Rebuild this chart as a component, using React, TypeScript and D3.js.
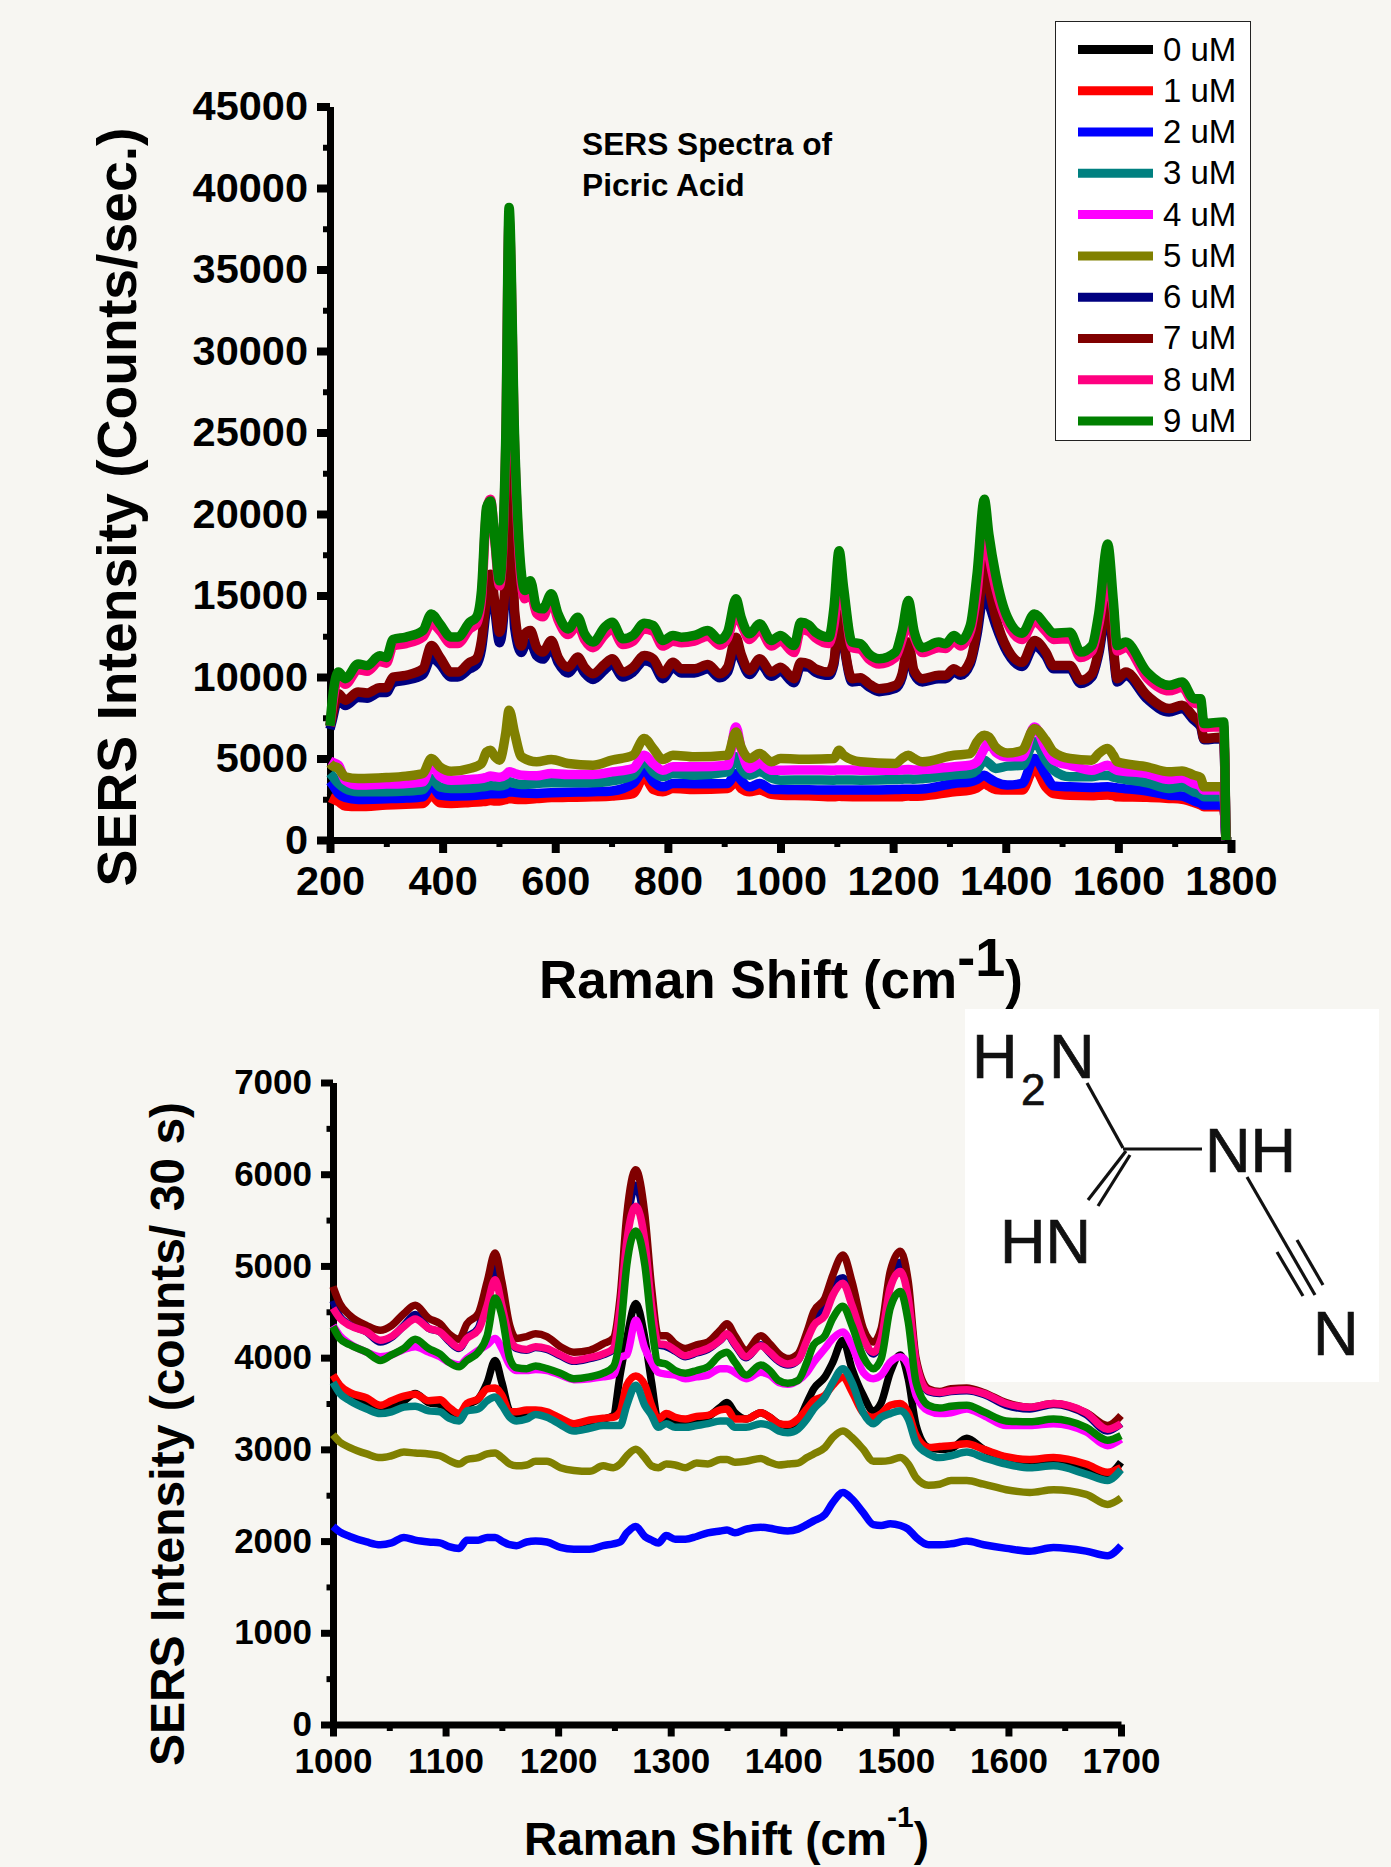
import React, { useRef, useEffect } from 'react';
import * as d3 from 'd3';

const WIDTH = 1391;
const HEIGHT = 1867;
const FONT = '"Liberation Sans", Arial, sans-serif';

const labels = ['0 uM', '1 uM', '2 uM', '3 uM', '4 uM', '5 uM', '6 uM', '7 uM', '8 uM', '9 uM'];
const colors = ['#000000', '#ff0000', '#0000ff', '#008080', '#ff00ff', '#808000', '#000080', '#800000', '#ff0080', '#008000'];

// top chart: picric acid. Low concentrations were read on a coarser grid than the high ones
const lowX = [
  200, 203, 215, 227, 250, 300, 335, 365, 380, 395,
  415, 448, 469, 478, 485, 493, 501, 512, 518, 528,
  540, 567, 593, 623, 667, 701, 738, 758, 774, 791,
  809, 847, 906, 921, 930, 945, 963, 984, 1000, 1050,
  1095, 1104, 1112, 1142, 1204, 1216, 1227, 1237, 1252, 1308,
  1337, 1349, 1362, 1370, 1382, 1403, 1429, 1451, 1471, 1485,
  1514, 1553, 1565, 1581, 1591, 1598, 1651, 1690, 1713, 1734,
  1746, 1752, 1787, 1791,
];
const highX = [
  200, 203, 215, 227, 250, 266, 288, 300, 312, 335,
  365, 380, 395, 415, 427, 448, 460, 469, 478, 485,
  493, 501, 512, 518, 528, 540, 546, 556, 567, 578,
  593, 605, 623, 640, 652, 667, 688, 701, 720, 738,
  758, 774, 791, 809, 824, 847, 871, 892, 906, 921,
  930, 945, 963, 984, 1000, 1024, 1036, 1050, 1062, 1086,
  1095, 1104, 1112, 1127, 1142, 1157, 1175, 1204, 1216, 1227,
  1237, 1252, 1281, 1293, 1308, 1320, 1337, 1349, 1362, 1370,
  1382, 1403, 1429, 1451, 1471, 1485, 1514, 1533, 1553, 1565,
  1581, 1591, 1598, 1613, 1651, 1690, 1713, 1734, 1746, 1752,
  1787, 1791,
];

const top0 = [
  3000, 2900, 2500, 2300, 2250, 2330, 2400, 2450, 3050, 2500,
  2450, 2500, 2550, 2590, 2620, 2610, 2610, 2680, 2750, 2700,
  2680, 2700, 2750, 2770, 2800, 2850, 3150, 4050, 3300, 3100,
  3300, 3270, 3300, 3800, 3400, 3100, 3250, 2950, 2900, 2880,
  2850, 2870, 2860, 2850, 2870, 2880, 2900, 2880, 2900, 3200,
  3300, 3450, 3700, 3550, 3300, 3200, 3250, 4700, 3600, 3050,
  2980, 2950, 2970, 3000, 2950, 2900, 2800, 2650, 2600, 2350,
  2200, 2090, 2090, 0,
];
const top1 = [
  2600, 2550, 2350, 2080, 2050, 2140, 2200, 2240, 2750, 2280,
  2240, 2300, 2350, 2380, 2420, 2400, 2400, 2480, 2550, 2500,
  2480, 2540, 2600, 2620, 2650, 2700, 2850, 3880, 3100, 2960,
  3160, 3100, 3160, 3570, 3160, 2960, 3060, 2800, 2750, 2720,
  2650, 2680, 2670, 2650, 2650, 2660, 2700, 2680, 2700, 2960,
  3060, 3200, 3470, 3300, 3100, 3060, 3060, 4390, 3260, 2850,
  2750, 2720, 2740, 2760, 2720, 2650, 2620, 2550, 2500, 2300,
  2150, 2040, 2040, 0,
];
const top2 = [
  3600, 3470, 2860, 2610, 2490, 2530, 2570, 2650, 3370, 2750,
  2690, 2720, 2770, 2800, 2830, 2830, 2840, 2880, 2960, 2930,
  2880, 2860, 2900, 2930, 2960, 3010, 3470, 4280, 3570, 3260,
  3470, 3450, 3470, 4080, 3670, 3260, 3470, 3120, 3100, 3080,
  3060, 3070, 3070, 3060, 3100, 3110, 3120, 3110, 3130, 3470,
  3570, 3720, 3980, 3800, 3560, 3370, 3470, 5000, 3980, 3320,
  3260, 3220, 3240, 3260, 3230, 3200, 3000, 2750, 2700, 2400,
  2250, 2140, 2140, 0,
];
const top3 = [
  4100, 3980, 3470, 3160, 2960, 2960, 3000, 3100, 3770, 3260,
  3160, 3180, 3260, 3300, 3350, 3330, 3320, 3400, 3570, 3470,
  3400, 3470, 3510, 3510, 3510, 3630, 3980, 4800, 4180, 3880,
  4080, 3980, 4180, 5100, 4390, 3980, 4180, 3800, 3670, 3680,
  3670, 3680, 3680, 3670, 3710, 3730, 3750, 3730, 3760, 4000,
  4080, 4300, 4900, 4700, 4390, 4530, 4590, 6020, 4900, 4280,
  3880, 3880, 3950, 3980, 3850, 3800, 3510, 3160, 3260, 2960,
  2800, 2650, 2650, 0,
];
const top4 = [
  4850, 4790, 4590, 3670, 3370, 3430, 3470, 3570, 4600, 3920,
  3670, 3710, 3770, 3850, 3920, 3880, 3850, 4000, 4180, 4080,
  3980, 3940, 4080, 4020, 4020, 4180, 4390, 5200, 4690, 4280,
  4490, 4490, 4590, 6940, 5610, 4390, 4690, 4280, 4280, 4300,
  4280, 4300, 4300, 4280, 4280, 4300, 4320, 4300, 4320, 4500,
  4590, 4800, 5610, 6000, 5400, 5100, 5100, 6940, 5610, 4900,
  4590, 4280, 4400, 4590, 4400, 4280, 4080, 3710, 3800, 3470,
  3300, 3060, 3060, 0,
];
const top5 = [
  4700, 4590, 4390, 3880, 3770, 3830, 3920, 4080, 5000, 4490,
  4220, 4390, 4690, 5400, 5500, 5100, 4900, 6530, 7960, 6530,
  5100, 4800, 4940, 4690, 4590, 4900, 5200, 6220, 5610, 4940,
  5200, 5100, 5200, 6630, 5700, 5000, 5300, 4800, 5000, 4950,
  5000, 5500, 5200, 4800, 4690, 5000, 5200, 5000, 4800, 5200,
  5300, 6020, 6430, 6320, 5700, 5340, 5500, 6830, 6120, 5400,
  5000, 4900, 5300, 5610, 5200, 4800, 4490, 4180, 4240, 3980,
  3830, 3260, 3260, 0,
];
const top6 = [
  6800, 7200, 8650, 8250, 8750, 8700, 9050, 9050, 9650, 9800,
  10150, 11200, 10800, 10000, 10000, 10500, 10750, 11700, 14300, 15800,
  14000, 12100, 15800, 21000, 13000, 11500, 11900, 12100, 11300, 11100,
  11850, 10900, 10250, 10850, 10250, 9850, 10450, 10800, 10000, 10300,
  11000, 10800, 9900, 10600, 10250, 10250, 10500, 9950, 10300, 11900,
  11100, 10150, 10850, 10050, 10350, 9650, 10650, 10600, 10300, 10100,
  10800, 13500, 12000, 9700, 9750, 9400, 9100, 9300, 10000, 11800,
  10200, 9700, 9900, 9900, 10300, 10100, 10800, 12600, 15200, 14500,
  13200, 11500, 10650, 11900, 11300, 10500, 10500, 9600, 10000, 11400,
  14300, 11500, 9700, 10100, 8650, 7850, 8050, 7350, 6950, 6150,
  6250, 0,
];
const top7 = [
  7000, 7450, 8980, 8570, 9080, 9020, 9340, 9340, 10000, 10100,
  10500, 11930, 11220, 10300, 10300, 10900, 11120, 12240, 14900, 16300,
  14500, 12750, 16300, 26000, 14000, 11900, 12650, 12850, 11830, 11530,
  12240, 11220, 10600, 11220, 10600, 10200, 10800, 11120, 10300, 10600,
  11320, 11120, 10200, 10900, 10500, 10500, 10770, 10200, 10600, 12440,
  11420, 10400, 11120, 10300, 10600, 9900, 10900, 10800, 10500, 10300,
  11000, 14180, 12240, 9900, 9960, 9590, 9280, 9490, 10200, 12140,
  10400, 9900, 10100, 10100, 10500, 10300, 11000, 13060, 17030, 15500,
  13670, 11730, 10900, 12240, 11530, 10700, 10700, 9800, 10200, 11630,
  15000, 11830, 9900, 10300, 8870, 8060, 8260, 7550, 7140, 6220,
  6320, 0,
];
const top8 = [
  7000, 7900, 9950, 9550, 10450, 10350, 10950, 10850, 11900, 12050,
  12450, 13300, 12850, 12050, 12050, 12950, 13250, 14800, 20200, 20900,
  18200, 15600, 24000, 38000, 24000, 15700, 14800, 15200, 13900, 13700,
  14700, 13500, 12600, 13200, 12300, 11800, 12600, 12950, 12000, 12200,
  12950, 12800, 11900, 12200, 12100, 12200, 12500, 11950, 12400, 13900,
  13300, 12300, 12900, 11900, 12200, 11500, 12900, 12800, 12400, 12050,
  13200, 15500, 14800, 11800, 11700, 11100, 10800, 11200, 12300, 13500,
  12500, 11500, 11800, 11750, 12200, 11900, 12800, 15200, 19200, 17500,
  15500, 13300, 12300, 13400, 12800, 12300, 12350, 11200, 11600, 13200,
  16000, 14200, 11600, 11800, 9950, 9150, 9350, 8400, 8300, 6900,
  6950, 0,
];
const top9 = [
  7000, 8200, 10300, 9900, 10800, 10700, 11300, 11200, 12300, 12450,
  12850, 13870, 13260, 12450, 12450, 13360, 13670, 15300, 20400, 20800,
  18360, 15900, 24500, 38800, 24500, 16300, 15300, 15900, 14280, 14180,
  15100, 13870, 12950, 13670, 12650, 12140, 13060, 13360, 12340, 12550,
  13300, 13160, 12240, 12550, 12440, 12550, 12850, 12280, 12750, 14800,
  13670, 12650, 13260, 12240, 12550, 11930, 13360, 13200, 12750, 12440,
  14280, 17750, 15500, 12140, 12040, 11420, 11120, 11530, 12850, 14690,
  12850, 11800, 12140, 12040, 12550, 12240, 13160, 16300, 20900, 18770,
  16300, 13670, 12690, 13870, 13160, 12690, 12750, 11530, 11930, 13870,
  18160, 14700, 11930, 12140, 10300, 9490, 9690, 8670, 8670, 7140,
  7240, 0,
];
const topSeries = [top0, top1, top2, top3, top4, top5, top6, top7, top8, top9];
const topXs = [lowX, lowX, lowX, lowX, lowX, lowX, highX, highX, highX, highX];

// bottom chart
const bottomX = [
  1000, 1006, 1015, 1030, 1042, 1052, 1063, 1073, 1085, 1095,
  1103, 1112, 1119, 1129, 1137, 1144, 1150, 1157, 1163, 1172,
  1180, 1190, 1202, 1214, 1228, 1240, 1249, 1255, 1261, 1269,
  1277, 1283, 1289, 1296, 1304, 1313, 1323, 1333, 1344, 1350,
  1357, 1367, 1380, 1388, 1396, 1404, 1413, 1421, 1427, 1437,
  1444, 1453, 1461, 1471, 1480, 1487, 1495, 1504, 1511, 1518,
  1529, 1539, 1549, 1563, 1578, 1598, 1619, 1640, 1669, 1688,
  1700,
];
const bot0 = [
  3800, 3690, 3590, 3480, 3420, 3460, 3530, 3610, 3510, 3490,
  3420, 3370, 3480, 3550, 3730, 3970, 3730, 3420, 3380, 3380,
  3400, 3380, 3310, 3250, 3290, 3330, 3370, 3810, 4210, 4590,
  4210, 3730, 3310, 3350, 3310, 3290, 3310, 3350, 3460, 3510,
  3400, 3330, 3400, 3350, 3280, 3260, 3310, 3510, 3660, 3790,
  3950, 4190, 3880, 3590, 3420, 3510, 3840, 4030, 3770, 3260,
  3020, 3000, 3010, 3120, 3000, 2910, 2860, 2880, 2800, 2730,
  2860,
];
const bot1 = [
  3810, 3700, 3620, 3560, 3480, 3530, 3580, 3600, 3530, 3540,
  3460, 3390, 3500, 3550, 3660, 3670, 3590, 3410, 3410, 3430,
  3430, 3410, 3340, 3280, 3320, 3340, 3350, 3410, 3700, 3800,
  3700, 3480, 3330, 3390, 3350, 3330, 3360, 3370, 3430, 3440,
  3330, 3330, 3400, 3350, 3280, 3270, 3330, 3440, 3530, 3590,
  3700, 3790, 3630, 3400, 3350, 3390, 3480, 3500, 3400, 3150,
  3020, 3030, 3040, 3060, 3000, 2920, 2890, 2910, 2840, 2750,
  2800,
];
const bot2 = [
  2160, 2100, 2050, 1990, 1960, 1980, 2040, 2010, 1990, 1980,
  1940, 1920, 2010, 2010, 2040, 2040, 2000, 1960, 1950, 1990,
  2000, 1990, 1930, 1910, 1910, 1950, 1970, 1990, 2090, 2160,
  2050, 2010, 1980, 2060, 2020, 2020, 2050, 2090, 2110, 2120,
  2090, 2130, 2150, 2140, 2120, 2110, 2130, 2180, 2220, 2290,
  2420, 2530, 2460, 2310, 2180, 2170, 2190, 2170, 2130, 2040,
  1960, 1960, 1970, 2000, 1960, 1920, 1890, 1930, 1890, 1840,
  1950,
];
const bot3 = [
  3730, 3610, 3530, 3440, 3390, 3410, 3460, 3470, 3420, 3410,
  3340, 3310, 3420, 3440, 3530, 3570, 3480, 3350, 3310, 3330,
  3380, 3350, 3270, 3200, 3230, 3260, 3260, 3260, 3480, 3700,
  3480, 3370, 3240, 3280, 3240, 3240, 3260, 3280, 3310, 3310,
  3240, 3240, 3280, 3260, 3200, 3180, 3220, 3330, 3440, 3570,
  3730, 3880, 3730, 3400, 3280, 3350, 3390, 3420, 3330, 3070,
  2950, 2910, 2930, 2970, 2910, 2840, 2800, 2820, 2730, 2660,
  2780,
];
const bot4 = [
  4350, 4240, 4150, 4060, 4010, 4030, 4090, 4120, 4060, 4010,
  3950, 3920, 3990, 4080, 4140, 4210, 4100, 3920, 3860, 3860,
  3870, 3860, 3810, 3760, 3770, 3790, 3810, 4000, 4030, 4410,
  4100, 3950, 3840, 3820, 3810, 3770, 3790, 3810, 3880, 3880,
  3840, 3770, 3840, 3810, 3730, 3710, 3750, 3840, 3950, 4100,
  4210, 4280, 4130, 3840, 3770, 3810, 3950, 4010, 3920, 3590,
  3420, 3390, 3400, 3440, 3370, 3260, 3260, 3280, 3190, 3040,
  3110,
];
const bot5 = [
  3160, 3080, 3020, 2950, 2910, 2930, 2970, 2960, 2950, 2930,
  2880, 2840, 2890, 2910, 2950, 2960, 2910, 2840, 2820, 2830,
  2870, 2870, 2800, 2770, 2760, 2820, 2800, 2840, 2930, 3000,
  2910, 2820, 2800, 2840, 2830, 2800, 2850, 2840, 2890, 2890,
  2860, 2870, 2900, 2860, 2830, 2840, 2850, 2910, 2950, 3020,
  3130, 3200, 3130, 3000, 2870, 2870, 2880, 2910, 2840, 2690,
  2610, 2620, 2660, 2660, 2620, 2560, 2530, 2560, 2510, 2400,
  2470,
];
const bot6 = [
  4620, 4450, 4360, 4280, 4170, 4220, 4350, 4470, 4320, 4280,
  4180, 4100, 4220, 4320, 4700, 5000, 4650, 4210, 4100, 4080,
  4110, 4090, 4020, 3960, 3990, 4030, 4090, 4560, 5400, 5880,
  5400, 4600, 4140, 4120, 4070, 4010, 4050, 4090, 4190, 4250,
  4140, 4000, 4140, 4050, 3960, 3920, 3970, 4210, 4420, 4560,
  4780, 4870, 4600, 4230, 4040, 4200, 4810, 5040, 4700, 3950,
  3630, 3610, 3630, 3640, 3600, 3480, 3440, 3490, 3380, 3200,
  3280,
];
const bot7 = [
  4775, 4590, 4460, 4350, 4300, 4350, 4480, 4570, 4430, 4370,
  4260, 4200, 4370, 4480, 4830, 5140, 4830, 4350, 4210, 4230,
  4260, 4230, 4120, 4060, 4080, 4150, 4210, 4650, 5560, 6050,
  5560, 4760, 4240, 4240, 4150, 4100, 4140, 4170, 4300, 4370,
  4240, 4080, 4240, 4150, 4040, 3990, 4040, 4280, 4500, 4650,
  4900, 5120, 4830, 4320, 4170, 4320, 4940, 5160, 4830, 3990,
  3660, 3630, 3660, 3670, 3620, 3510, 3460, 3500, 3400, 3260,
  3370,
];
const bot8 = [
  4540, 4430, 4350, 4280, 4190, 4230, 4340, 4420, 4320, 4280,
  4190, 4110, 4210, 4300, 4570, 4850, 4570, 4210, 4110, 4090,
  4120, 4100, 4030, 3970, 4000, 4040, 4100, 4540, 5270, 5650,
  5270, 4570, 4150, 4140, 4080, 4020, 4060, 4100, 4190, 4260,
  4150, 4010, 4130, 4060, 3970, 3930, 3970, 4190, 4350, 4460,
  4680, 4810, 4570, 4210, 4060, 4210, 4760, 4940, 4650, 3950,
  3640, 3620, 3640, 3650, 3610, 3500, 3460, 3500, 3400, 3220,
  3280,
];
const bot9 = [
  4340, 4210, 4140, 4060, 3970, 4030, 4100, 4200, 4100, 4040,
  3950, 3900, 3970, 4060, 4240, 4650, 4460, 3990, 3890, 3880,
  3910, 3880, 3830, 3770, 3790, 3830, 3900, 4240, 5010, 5380,
  5010, 4350, 3950, 3930, 3860, 3830, 3860, 3900, 4030, 4060,
  3950, 3810, 3920, 3860, 3750, 3720, 3750, 3950, 4140, 4240,
  4430, 4560, 4350, 4010, 3880, 3990, 4540, 4720, 4390, 3730,
  3480, 3450, 3470, 3480, 3410, 3310, 3300, 3330, 3240, 3100,
  3150,
];
const bottomSeries = [bot0, bot1, bot2, bot3, bot4, bot5, bot6, bot7, bot8, bot9];

const topYTicks = d3.range(0, 45001, 5000);
const topYMinor = d3.range(2500, 45000, 5000);
const topXTicks = d3.range(200, 1801, 200);
const topXMinor = d3.range(300, 1800, 200);
const botYTicks = d3.range(0, 7001, 1000);
const botYMinor = d3.range(500, 7000, 1000);
const botXTicks = d3.range(1000, 1701, 100);
const botXMinor = d3.range(1050, 1700, 100);

// bonds of the inset molecule, in page pixels
const bonds = [
  [1087, 1083, 1123, 1148],
  [1123, 1149, 1202, 1149],
  [1126, 1151, 1088, 1200],
  [1130, 1155, 1098, 1206],
  [1247, 1177, 1315, 1295],
  [1297, 1240, 1323, 1285],
  [1277, 1252, 1303, 1296],
];

function drawPanel(svg, o) {
  const x = d3.scaleLinear().domain(o.xDomain).range(o.xRange);
  const y = d3.scaleLinear().domain(o.yDomain).range(o.yRange);
  const g = svg.append('g');

  const style = (axis) => {
    axis.selectAll('path.domain').attr('stroke', '#000').attr('stroke-width', o.axisWidth);
    axis.selectAll('line').attr('stroke', '#000');
    axis.selectAll('text').attr('font-family', FONT).attr('font-weight', 'bold').attr('font-size', o.tickFont).attr('fill', '#000');
  };

  g.append('g')
    .attr('transform', `translate(0,${o.yRange[0]})`)
    .call(d3.axisBottom(x).tickValues(o.xMinor).tickSize(o.minorLen).tickSizeOuter(0).tickFormat(() => ''))
    .call(a => a.selectAll('line').attr('stroke-width', o.minorWidth))
    .call(a => a.select('path.domain').remove());
  g.append('g')
    .attr('transform', `translate(${o.xRange[0]},0)`)
    .call(d3.axisLeft(y).tickValues(o.yMinor).tickSize(o.minorLen).tickSizeOuter(0).tickFormat(() => ''))
    .call(a => a.selectAll('line').attr('stroke-width', o.minorWidth))
    .call(a => a.select('path.domain').remove());

  const xAxis = g.append('g')
    .attr('transform', `translate(0,${o.yRange[0]})`)
    .call(d3.axisBottom(x).tickValues(o.xTicks).tickSize(o.majorLen).tickSizeOuter(0).tickPadding(o.xPad).tickFormat(d3.format('d')));
  style(xAxis);
  xAxis.selectAll('line').attr('stroke-width', o.majorWidth);

  const yAxis = g.append('g')
    .attr('transform', `translate(${o.xRange[0]},0)`)
    .call(d3.axisLeft(y).tickValues(o.yTicks).tickSize(o.majorLen).tickSizeOuter(0).tickPadding(o.yPad).tickFormat(d3.format('d')));
  style(yAxis);
  yAxis.selectAll('line').attr('stroke-width', o.majorWidth);

  const line = d3.line().x(d => x(d[0])).y(d => y(d[1])).curve(d3.curveMonotoneX);
  o.series.forEach((values, i) => {
    const xs = o.xs[i];
    g.append('path')
      .datum(values.map((v, j) => [xs[j], v]))
      .attr('fill', 'none')
      .attr('stroke', colors[i])
      .attr('stroke-width', o.lineWidth)
      .attr('stroke-linejoin', 'round')
      .attr('stroke-linecap', 'butt')
      .attr('d', line);
  });
}

function addTitle(svg, text, cx, baseline, size) {
  svg.append('text')
    .attr('transform', `translate(${baseline},${cx}) rotate(-90)`)
    .attr('text-anchor', 'middle')
    .attr('font-family', FONT).attr('font-weight', 'bold').attr('font-size', size)
    .text(text);
}

function addRamanTitle(svg, x, baseline, size, supSize, supRise) {
  const t = svg.append('text')
    .attr('x', x).attr('y', baseline)
    .attr('font-family', FONT).attr('font-weight', 'bold').attr('font-size', size);
  t.append('tspan').text('Raman Shift (cm');
  t.append('tspan').attr('dy', -supRise).attr('font-size', supSize).text('-1');
  t.append('tspan').attr('dy', supRise).text(')');
}

const App = () => {
  const svgRef = useRef(null);

  useEffect(() => {
    const svg = d3.select(svgRef.current);
    svg.selectAll('*').remove();

    svg.append('rect').attr('width', WIDTH).attr('height', HEIGHT).attr('fill', '#f7f6f2');

    drawPanel(svg, {
      xDomain: [200, 1800], xRange: [330, 1231],
      yDomain: [0, 45000], yRange: [840, 106.5],
      xTicks: topXTicks, xMinor: topXMinor, yTicks: topYTicks, yMinor: topYMinor,
      series: topSeries, xs: topXs,
      lineWidth: 9.5, axisWidth: 7, majorLen: 13, minorLen: 7, majorWidth: 8, minorWidth: 6,
      tickFont: 41.5, xPad: 13, yPad: 9,
    });
    addTitle(svg, 'SERS Intensity (Counts/sec.)', 507, 136, 55.3);
    addRamanTitle(svg, 539, 998, 53, 54, 22);

    svg.append('text').attr('x', 582).attr('y', 155)
      .attr('font-family', FONT).attr('font-weight', 'bold').attr('font-size', 31.7)
      .text('SERS Spectra of');
    svg.append('text').attr('x', 582).attr('y', 196)
      .attr('font-family', FONT).attr('font-weight', 'bold').attr('font-size', 31.7)
      .text('Picric Acid');

    drawPanel(svg, {
      xDomain: [1000, 1700], xRange: [333, 1121],
      yDomain: [0, 7000], yRange: [1724.5, 1082.5],
      xTicks: botXTicks, xMinor: botXMinor, yTicks: botYTicks, yMinor: botYMinor,
      series: bottomSeries, xs: bottomSeries.map(() => bottomX),
      lineWidth: 7.5, axisWidth: 7, majorLen: 12, minorLen: 6.5, majorWidth: 7, minorWidth: 6,
      tickFont: 35, xPad: 12, yPad: 9,
    });
    addTitle(svg, 'SERS Intensity (counts/ 30 s)', 1434, 184, 48);
    addRamanTitle(svg, 524, 1855, 46, 30, 28);

    // legend
    const legend = svg.append('g');
    legend.append('rect').attr('x', 1055.5).attr('y', 21.5).attr('width', 195).attr('height', 419)
      .attr('fill', '#fff').attr('stroke', '#222').attr('stroke-width', 1);
    const legendY = d3.scalePoint().domain(labels).range([49.5, 421]);
    labels.forEach((label, i) => {
      legend.append('line').attr('x1', 1078).attr('x2', 1153)
        .attr('y1', legendY(label)).attr('y2', legendY(label))
        .attr('stroke', colors[i]).attr('stroke-width', 9);
      legend.append('text').attr('x', 1163).attr('y', legendY(label) + 11)
        .attr('font-family', FONT).attr('font-size', 33).attr('fill', '#000')
        .text(label);
    });

    // inset molecule
    const mol = svg.append('g');
    mol.append('rect').attr('x', 965).attr('y', 1009).attr('width', 414).attr('height', 373).attr('fill', '#fff');
    bonds.forEach(b => {
      mol.append('line').attr('x1', b[0]).attr('y1', b[1]).attr('x2', b[2]).attr('y2', b[3])
        .attr('stroke', '#111').attr('stroke-width', 3.2);
    });
    const atom = (text, ax, ay, size) => mol.append('text').attr('x', ax).attr('y', ay)
      .attr('font-family', FONT).attr('font-size', size).attr('fill', '#111')
      .attr('stroke', '#111').attr('stroke-width', 0.7).text(text);
    atom('H', 972, 1078, 63);
    atom('2', 1021, 1105, 44);
    atom('N', 1049, 1078, 63);
    atom('NH', 1205, 1172, 63);
    atom('HN', 1000, 1263, 63);
    atom('N', 1313, 1355, 63);
  }, []);

  return <svg ref={svgRef} width={WIDTH} height={HEIGHT} style={{ position: 'absolute', left: 0, top: 0 }} />;
};

export default App;
